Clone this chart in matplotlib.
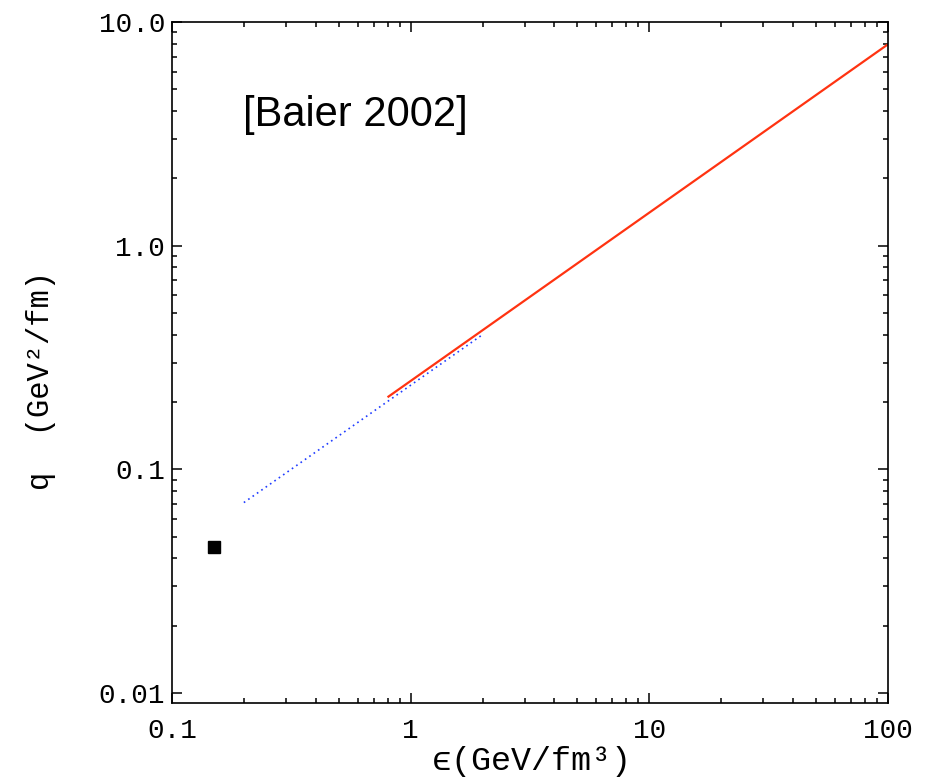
import matplotlib
matplotlib.use("Agg")
import matplotlib.pyplot as plt
from matplotlib.ticker import FixedLocator, FixedFormatter, LogLocator, NullFormatter

# data
point_eps = [0.15]
point_q = [0.045]

# dotted blue curve (q ~ eps^3/4)
blue_eps = [0.2, 2.0]
blue_q = [0.071, 0.40]

# solid red curve
red_eps = [0.8, 100.0]
red_q = [0.21, 7.95]

xticks = [0.1, 1, 10, 100]
xtick_labels = ["0.1", "1", "10", "100"]
yticks = [0.01, 0.1, 1.0, 10.0]
ytick_labels = ["0.01", "0.1", "1.0", "10.0"]

mono = ['Liberation Mono', 'DejaVu Sans Mono']

fig = plt.figure(figsize=(9.26, 7.8), dpi=100)
ax = fig.add_axes([172/926, 1-703/780, (888-172)/926, (703-22)/780])

ax.plot(blue_eps, blue_q, color='#1f3cff', lw=1.2, linestyle=(0, (1, 2.2)))
ax.plot(red_eps, red_q, color='#ff3311', lw=1.6, solid_capstyle='butt')
ax.plot(point_eps, point_q, 's', color='black', markersize=8.5)

ax.set_xscale('log')
ax.set_yscale('log')
ax.set_xlim(0.1, 100)
ax.set_ylim(0.00902, 10)

ax.xaxis.set_major_locator(FixedLocator(xticks))
ax.xaxis.set_major_formatter(FixedFormatter(xtick_labels))
ax.yaxis.set_major_locator(FixedLocator(yticks))
ax.yaxis.set_major_formatter(FixedFormatter(ytick_labels))
ax.xaxis.set_minor_locator(LogLocator(base=10, subs=range(2, 10)))
ax.yaxis.set_minor_locator(LogLocator(base=10, subs=range(2, 10)))
ax.xaxis.set_minor_formatter(NullFormatter())
ax.yaxis.set_minor_formatter(NullFormatter())

ax.tick_params(which='both', direction='in', top=True, right=True, width=1.1)
ax.tick_params(which='major', length=7)
ax.tick_params(which='minor', length=3.8)
ax.tick_params(axis='x', which='major', pad=11)
ax.tick_params(axis='y', which='major', pad=5)
for lab in ax.get_xticklabels() + ax.get_yticklabels():
    lab.set_fontfamily(mono)
    lab.set_fontsize(20)
for sp in ax.spines.values():
    sp.set_linewidth(1.2)

ax.set_xlabel('\u03f5(GeV/fm³)', fontfamily=mono, fontsize=24)
ax.xaxis.set_label_coords(0.503, -0.098)
ax.xaxis.label.set_va('baseline')
ax.set_ylabel('q  (GeV²/fm)', fontfamily=mono, fontsize=22)
ax.yaxis.set_label_coords(-0.162, 0.474)

ax.text(0.099, 0.863, "[Baier 2002]", transform=ax.transAxes, fontfamily='Liberation Sans',
        fontsize=30, ha='left', va='center')

fig.savefig('out.png', dpi=100)
